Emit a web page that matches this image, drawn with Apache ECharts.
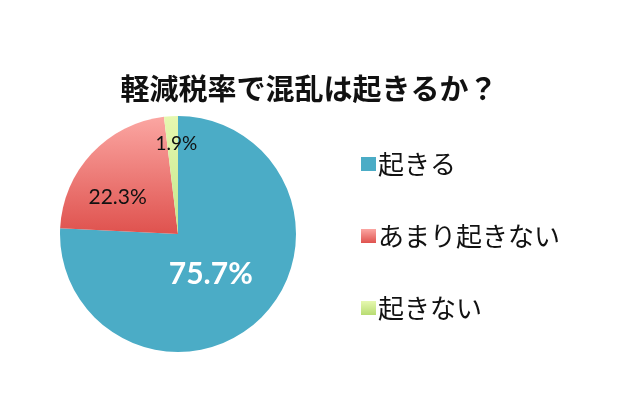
<!DOCTYPE html>
<html>
<head>
<meta charset="utf-8">
<script src="https://cdn.jsdelivr.net/npm/echarts@6/dist/echarts.min.js"></script>
<style>
html, body { margin: 0; padding: 0; background: #fff; }
#chart { width: 618px; height: 411px; }
</style>
</head>
<body>
<div id="chart"></div>
<script>
// データ
var TITLE = '軽減税率で混乱は起きるか？';
var categories = ['起きる', 'あまり起きない', '起きない'];
var values = [75.7, 22.3, 1.9];

var FONT_JP = '"Noto Sans CJK JP", sans-serif';
var FONT_NUM = 'Lato, "Open Sans", sans-serif';

function grad(top, bottom){
	return new echarts.graphic.LinearGradient(0, 0, 0, 1, [
		{offset: 0, color: top},
		{offset: 1, color: bottom}
	]);
}

// 見た目（色・ラベル位置）
var STYLES = [
	{color: '#4BACC6', legend: '#4BACC6', label: {color: '#fff', fontSize: 30, fontWeight: 'bold', offset: [-10, -5]}},
	{color: grad('#FBA6A2', '#DF524E'), legend: grad('#FBA6A2', '#DF524E'), label: {color: '#111', fontSize: 21, offset: [-15, 5]}},
	{color: grad('#E6F8B0', '#C4E58A'), legend: grad('#E6F8B0', '#B8DC72'), label: {color: '#111', fontSize: 19, offset: [2, -28]}}
];

var seriesData = [];
for(var i=0; i<categories.length; i++){
	var st = STYLES[i];
	seriesData.push({
		name: categories[i],
		value: values[i],
		itemStyle: {color: st.color},
		label: {
			color: st.label.color,
			fontSize: st.label.fontSize,
			fontWeight: st.label.fontWeight || 'normal',
			offset: st.label.offset
		}
	});
}

var chart = echarts.init(document.getElementById('chart'));
var option = {
	backgroundColor: '#fff',
	animation: false,
	title: {
		text: TITLE,
		left: 'center',
		top: 69,
		textStyle: {
			fontFamily: FONT_JP,
			fontSize: 29,
			fontWeight: 'bold',
			color: '#111'
		}
	},
	legend: {
		orient: 'vertical',
		left: 356,
		top: 146,
		itemWidth: 15,
		itemHeight: 14,
		itemGap: 46,
		icon: 'rect',
		data: categories.map(function(c, i){
			return {name: c, itemStyle: {color: STYLES[i].legend}};
		}),
		textStyle: {
			fontFamily: FONT_JP,
			fontSize: 26,
			color: '#111',
			padding: [0, 0, 0, -3]
		}
	},
	series: [
		{
			type: 'pie',
			center: [178, 234],
			radius: 118,
			startAngle: 90,
			clockwise: true,
			label: {
				show: true,
				position: 'inside',
				fontFamily: FONT_NUM,
				formatter: function(p){ return p.value.toFixed(1) + '%'; }
			},
			labelLine: {show: false},
			emphasis: {disabled: true},
			itemStyle: {borderWidth: 0},
			data: seriesData
		}
	]
};
chart.setOption(option);
</script>
</body>
</html>
